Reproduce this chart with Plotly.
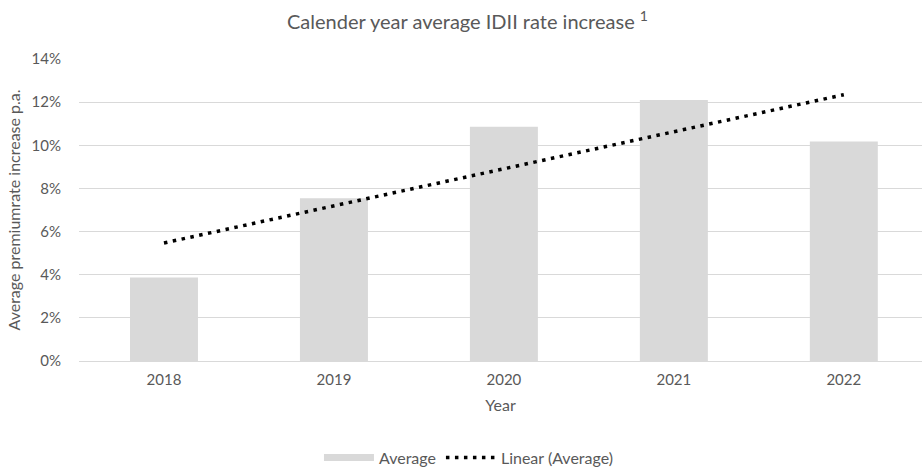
import numpy as np
import plotly.graph_objects as go

years = ["2018", "2019", "2020", "2021", "2022"]
average = [3.87, 7.54, 10.86, 12.10, 10.18]  # percent
y_ticks = [0, 2, 4, 6, 8, 10, 12, 14]
y_tick_labels = [f"{v}%" for v in y_ticks]

# Excel-style linear trendline fitted to the averages
xi = np.arange(len(years))
slope, intercept = np.polyfit(xi, average, 1)
trend = list(slope * xi + intercept)

FONT = "Lato"
GREY = "#595959"
BAR = "#d9d9d9"

fig = go.Figure()
fig.add_trace(go.Bar(
    x=years, y=average, name="Average",
    marker=dict(color=BAR, line=dict(width=0)),
    width=0.4, showlegend=False, legendgroup="avg",
))
# legend proxy for the bar series (wide flat swatch, as in the reference)
fig.add_trace(go.Scatter(
    x=[None], y=[None], name="Average", mode="lines",
    line=dict(color=BAR, width=7), legendgroup="avg", showlegend=True,
))
fig.add_trace(go.Scatter(
    x=years, y=trend, name="Linear (Average)", mode="lines",
    line=dict(color="black", width=3.5, dash="3.5px,5.5px"),
))

fig.update_layout(
    width=922, height=475,
    margin=dict(l=79, r=0, t=59, b=107),
    paper_bgcolor="white", plot_bgcolor="white",
    font=dict(family=FONT, color=GREY, size=15),
    title=dict(
        text="Calender year average IDII rate increase <sup>1</sup>",
        x=0.507, xref="container", xanchor="center",
        y=1 - 22 / 475, yref="container", yanchor="middle",
        font=dict(family=FONT, size=20, color=GREY),
    ),
    showlegend=True,
    legend=dict(
        orientation="h", x=0.4626, xanchor="center",
        y=-0.32, yanchor="middle", yref="paper",
        font=dict(family=FONT, size=16, color=GREY),
        itemwidth=50, traceorder="normal",
    ),
)
fig.update_xaxes(
    type="category", range=[-0.5, 4.46],
    showgrid=False, showline=False, zeroline=False,
    ticks="", ticklabelstandoff=8,
    tickfont=dict(family=FONT, size=15, color=GREY),
    title=dict(text="Year", font=dict(family=FONT, size=16, color=GREY), standoff=12),
)
fig.update_yaxes(
    range=[0, 14], tickvals=y_ticks, ticktext=y_tick_labels,
    showgrid=True, gridcolor=BAR, gridwidth=1.3,
    zeroline=True, zerolinecolor=BAR, zerolinewidth=1.3,
    showline=False, ticks="", ticklabelstandoff=17,
    tickfont=dict(family=FONT, size=15, color=GREY),
    title=dict(text="Average premiumrate increase p.a.", font=dict(family=FONT, size=16, color=GREY), standoff=6),
)

fig.write_html("out.html")
